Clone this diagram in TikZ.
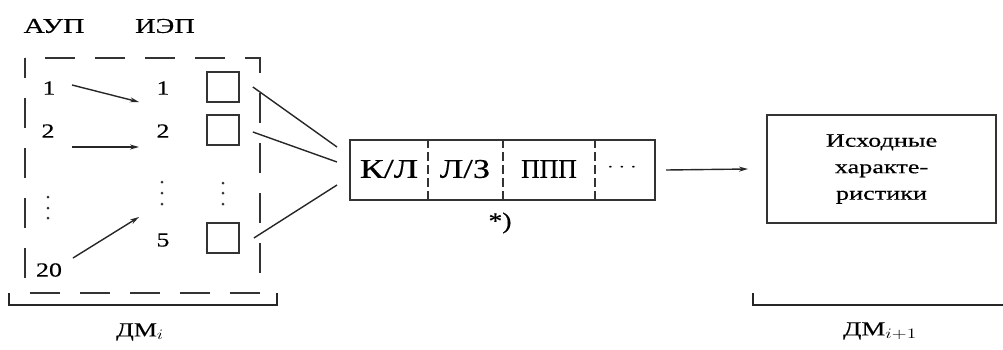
\documentclass[tikz,border=0pt]{standalone}
\usepackage{fontspec}
\setmainfont{Liberation Serif}[FakeBold=0.3]
\usetikzlibrary{arrows.meta,calc}
\newcommand\wx[2]{\scalebox{#1}[1]{#2}}
\tikzset{
  lbl/.style={font=\fontsize{20}{24}\selectfont, inner sep=0pt, text=black},
  head/.style={font=\fontsize{21}{25}\selectfont, inner sep=0pt, text=black},
  big/.style={font=\fontsize{27}{30}\selectfont, inner sep=0pt, text=black},
  sq/.style={draw=black!80, line width=1.8pt, minimum width=32pt, minimum height=30pt, inner sep=0pt},
  conn/.style={draw=black!85, line width=1.4pt},
  arr/.style={conn, -{Stealth[length=9pt,width=5pt]}},
  dotm/.style={fill=black!80, circle, inner sep=0pt, minimum size=3pt},
}
\begin{document}
\begin{tikzpicture}[x=1pt,y=-1pt]
\useasboundingbox (0,0) rectangle (1003,349);
% headings
\node[head] (aup) at (54,26) {\wx{1.4}{АУП}};
\node[head] (iep) at (165,26) {\wx{1.35}{ИЭП}};
% dashed box
\draw[black!80, line width=2.4pt, dash pattern=on 30pt off 20pt, dash phase=10pt] (25,58) rectangle (260,293);
% left numbers
\node[lbl] (a1) at (49,88) {\wx{1.3}{1}};
\node[lbl] (a2) at (48,131) {\wx{1.3}{2}};
\node[lbl] (a20) at (49,270) {\wx{1.3}{20}};
\foreach \y/\n in {197/la,208/lb,218/lc} \node[dotm] (\n) at (48,\y) {};
% right numbers
\node[lbl] (b1) at (163,88) {\wx{1.3}{1}};
\node[lbl] (b2) at (163,131) {\wx{1.3}{2}};
\node[lbl] (b5) at (163,240) {\wx{1.3}{5}};
\foreach \y/\n in {182/ma,193/mb,204/mc} \node[dotm] (\n) at (162,\y) {};
% squares
\node[sq] (s1) at (223,87) {};
\node[sq] (s2) at (223,130) {};
\node[sq] (s3) at (223,238) {};
\foreach \y/\n in {183/ra,193/rb,204/rc} \node[dotm] (\n) at (223,\y) {};
% arrows AUP -> IEP
\coordinate (p1s) at (72,85);  \coordinate (p1e) at (139,102);
\coordinate (p2s) at (72,147); \coordinate (p2e) at (139,147);
\coordinate (p3s) at (73,258); \coordinate (p3e) at (139,217);
\draw[arr] (p1s) -- (p1e);
\draw[arr] (p2s) -- (p2e);
\draw[arr] (p3s) -- (p3e);
% main box
\node[draw=black!80, line width=2pt, minimum width=305pt, minimum height=60pt, inner sep=0pt] (main) at (502.5,170) {};
\foreach \x in {428,503,595}
  \draw[black!80, line width=1.4pt, dash pattern=on 9pt off 4pt] (main.north -| \x,0) -- (main.south -| \x,0);
\node[big] (kl) at (389,169) {\wx{1.33}{К/Л}};
\node[big] (lz) at (465,169) {\wx{1.28}{Л/З}};
\node[big] (ppp) at (549,169) {\wx{0.95}{ППП}};
\node[font=\fontsize{16}{20}\selectfont, inner sep=0pt] (dd) at (622,168) {\wx{1.5}{$\cdots$}};
\node[font=\fontsize{23}{26}\selectfont, inner sep=0pt] (star) at (500,223) {\wx{1.2}{*)}};
% connectors squares -> box
\coordinate (c1) at (337,147);
\coordinate (c2) at (337,162);
\coordinate (c3) at (337,185);
\draw[conn] ([xshift=13pt]s1.east) -- (c1);
\draw[conn] ([xshift=13pt,yshift=-2pt]s2.east) -- (c2);
\draw[conn] ([xshift=14pt]s3.east) -- (c3);
% right box
\node[draw=black!80, line width=2pt, minimum width=229pt, minimum height=108pt, inner sep=0pt, align=center,
      font=\fontsize{19}{26.5}\selectfont, text=black] (ish) at (881.5,169)
  {\wx{1.38}{Исходные}\\ \wx{1.38}{характе-}\\ \wx{1.38}{ристики}};
\draw[arr] ([xshift=10pt]main.east) -- ([xshift=-18pt]ish.west);
% brackets
\coordinate (bl1) at (9,293); \coordinate (bl2) at (277,293);
\draw[conn] (bl1) -- (9,305) -- (277,305) -- (bl2);
\coordinate (br1) at (753,293); \coordinate (br2) at (1003,305);
\draw[conn] (br1) -- (753,305) -- (br2);
\node[font=\fontsize{20}{24}\selectfont, inner sep=0pt] (dmi) at (140,332) {\wx{1.3}{ДМ$_i$}};
\node[font=\fontsize{20}{24}\selectfont, inner sep=0pt] (dmi1) at (880,331) {\wx{1.35}{ДМ$_{i+1}$}};
\end{tikzpicture}
\end{document}
